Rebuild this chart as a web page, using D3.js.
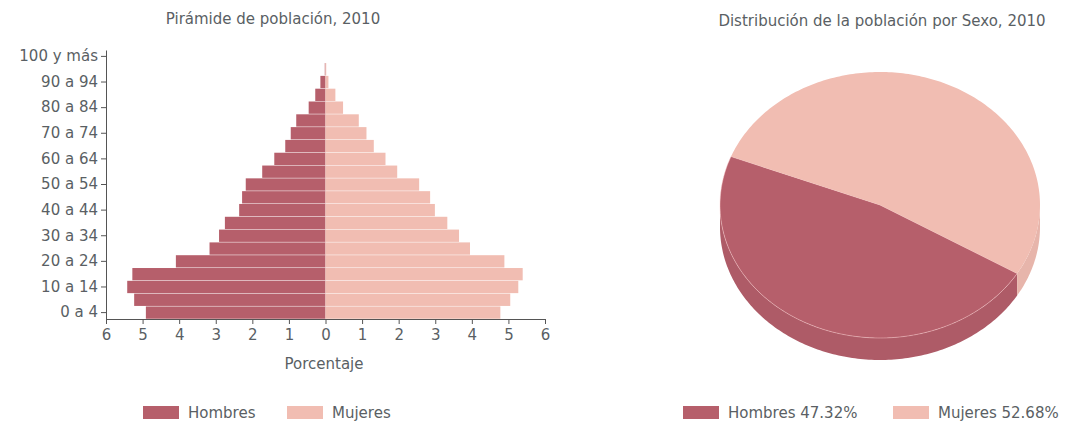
<!DOCTYPE html>
<html>
<head>
<meta charset="utf-8">
<script src="https://cdn.jsdelivr.net/npm/d3@7"></script>
<style>
  html, body { margin: 0; padding: 0; background: #fff; }
  svg { display: block; }
  text { font-family: "DejaVu Sans", sans-serif; fill: #5a5f64; }
</style>
</head>
<body>
<svg id="chart" width="1071" height="424"></svg>
<script>
// ---------- data ----------
const ageGroups = ["0 a 4","5 a 9","10 a 14","15 a 19","20 a 24","25 a 29","30 a 34","35 a 39",
  "40 a 44","45 a 49","50 a 54","55 a 59","60 a 64","65 a 69","70 a 74","75 a 79","80 a 84",
  "85 a 89","90 a 94","95 a 99","100 y más"];
const hombres = [4.91,5.23,5.42,5.28,4.09,3.17,2.91,2.75,2.36,2.28,2.18,1.73,1.40,1.10,0.95,0.80,0.46,0.28,0.14,0.02,0];
const mujeres = [4.78,5.05,5.27,5.39,4.89,3.95,3.65,3.33,2.99,2.86,2.56,1.96,1.64,1.32,1.12,0.91,0.48,0.27,0.08,0.02,0];
const xTickValues = [-6,-5,-4,-3,-2,-1,0,1,2,3,4,5,6];
const yTickLabels = ["0 a 4","10 a 14","20 a 24","30 a 34","40 a 44","50 a 54","60 a 64","70 a 74","80 a 84","90 a 94","100 y más"];
const seriesNames = ["Hombres","Mujeres"];
const pieLabels = ["Hombres","Mujeres"];
const pieValues = [47.32, 52.68];
const pyramidTitle = "Pirámide de población, 2010";
const pieTitle = "Distribución de la población por Sexo, 2010";
const xAxisTitle = "Porcentaje";

const colH = "#b65f6b";
const colM = "#f1bdb2";
const colors = [colH, colM];

const svg = d3.select("#chart");

// ---------- pyramid ----------
const x = d3.scaleLinear().domain([-6, 6]).range([106, 545]);
const y = d3.scaleBand().domain(ageGroups).range([319, 50]).paddingInner(0.04).paddingOuter(0.02);

const g = svg.append("g");

g.selectAll("rect.h").data(ageGroups).join("rect")
  .attr("class", "h")
  .attr("x", (d, i) => x(-hombres[i]))
  .attr("y", d => y(d))
  .attr("width", (d, i) => x(0) - x(-hombres[i]))
  .attr("height", y.bandwidth())
  .attr("fill", colH);

g.selectAll("rect.m").data(ageGroups).join("rect")
  .attr("class", "m")
  .attr("x", x(0))
  .attr("y", d => y(d))
  .attr("width", (d, i) => x(mujeres[i]) - x(0))
  .attr("height", y.bandwidth())
  .attr("fill", colM);

// x axis
const xAxis = d3.axisBottom(x).tickValues(xTickValues).tickSize(5).tickSizeOuter(0)
  .tickFormat(d => Math.abs(d));
const xg = g.append("g").attr("transform", "translate(0,319)").call(xAxis);
xg.select(".domain").attr("stroke", "#555");
xg.selectAll(".tick line").attr("stroke", "#555");
xg.selectAll(".tick text").attr("font-size", 15).attr("dy", "0.95em").attr("y", 7)
  .style("font-family", "DejaVu Sans").attr("fill", "#5a5f64");

// y axis
const yAxis = d3.axisLeft(y).tickValues(yTickLabels).tickSize(5).tickSizeOuter(0);
const yg = g.append("g").attr("transform", "translate(106,0)").call(yAxis);
yg.select(".domain").attr("stroke", "#555");
yg.selectAll(".tick line").attr("stroke", "#555");
yg.selectAll(".tick text").attr("font-size", 15).attr("x", -8)
  .style("font-family", "DejaVu Sans").attr("fill", "#5a5f64");

// titles
svg.append("text").attr("x", 273).attr("y", 24).attr("text-anchor", "middle")
  .attr("font-size", 15).text(pyramidTitle);
svg.append("text").attr("x", 324).attr("y", 369).attr("text-anchor", "middle")
  .attr("font-size", 15).text(xAxisTitle);

// pyramid legend
const legL = svg.append("g");
const legLX = [143, 287];
seriesNames.forEach((n, i) => {
  legL.append("rect").attr("x", legLX[i]).attr("y", 406).attr("width", 36).attr("height", 13).attr("fill", colors[i]);
  legL.append("text").attr("x", legLX[i] + 45).attr("y", 418).attr("font-size", 15).text(n);
});

// ---------- 3D pie ----------
const cx = 880, cy = 205, rx = 160, ry = 133, depth = 22;
const deg = Math.PI / 180;
const start = 121 * deg;
const pie = d3.pie().sort(null).startAngle(start).endAngle(start + 2 * Math.PI);
const arcs = pie(pieValues);

const pt = (a, dy = 0) => [cx + rx * Math.sin(a), cy - ry * Math.cos(a) + dy];
const sample = (a0, a1) => {
  const n = Math.max(2, Math.ceil(Math.abs(a1 - a0) / (1 * deg)));
  return d3.range(n + 1).map(k => a0 + (a1 - a0) * k / n);
};

const pg = svg.append("g");

// sides (front half: angles between 90° and 270° modulo 360)
arcs.forEach((a, i) => {
  for (let k = -1; k <= 1; k++) {
    const lo = Math.max(a.startAngle, Math.PI / 2 + 2 * Math.PI * k);
    const hi = Math.min(a.endAngle, 1.5 * Math.PI + 2 * Math.PI * k);
    if (hi > lo) {
      const angs = sample(lo, hi);
      const pts = angs.map(t => pt(t)).concat(angs.slice().reverse().map(t => pt(t, depth)));
      pg.append("path").attr("d", d3.line()(pts) + "Z")
        .attr("fill", d3.color(colors[i]).darker(0.12));
    }
  }
});

// top faces
arcs.forEach((a, i) => {
  const pts = [[cx, cy]].concat(sample(a.startAngle, a.endAngle).map(t => pt(t)));
  pg.append("path").attr("d", d3.line()(pts) + "Z")
    .attr("fill", colors[i])
    .attr("stroke", i === 0 ? "rgba(255,210,210,0.55)" : "none")
    .attr("stroke-width", 0.8)
    .attr("stroke-linejoin", "round");
});

svg.append("text").attr("x", 882).attr("y", 26).attr("text-anchor", "middle")
  .attr("font-size", 15).text(pieTitle);

// pie legend
const legR = svg.append("g");
const legRX = [683, 893];
pieLabels.forEach((n, i) => {
  legR.append("rect").attr("x", legRX[i]).attr("y", 406).attr("width", 36).attr("height", 13).attr("fill", colors[i]);
  legR.append("text").attr("x", legRX[i] + 45).attr("y", 418).attr("font-size", 15)
    .text(n + " " + pieValues[i].toFixed(2) + "%");
});
</script>
</body>
</html>
